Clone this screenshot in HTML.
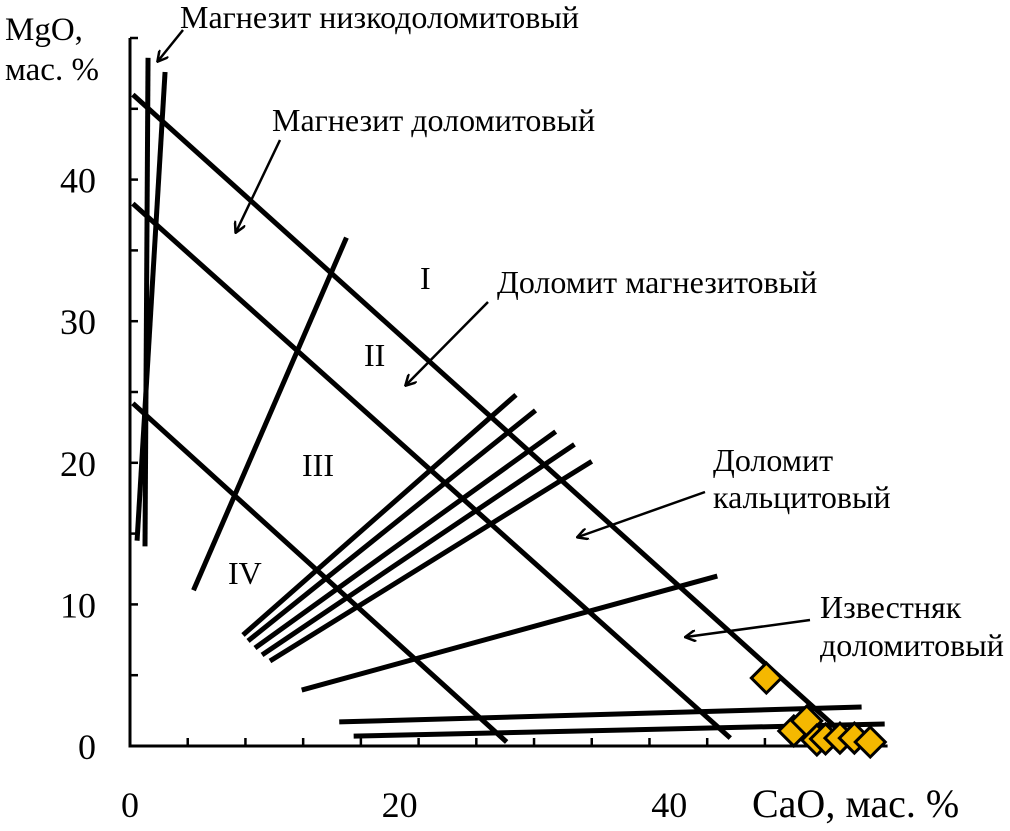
<!DOCTYPE html>
<html><head><meta charset="utf-8"><style>
html,body{margin:0;padding:0;background:#fff;}
svg{display:block;font-family:"Liberation Serif",serif;}
</style></head><body>
<svg id="chart" width="1010" height="831" viewBox="0 0 1010 831" xmlns="http://www.w3.org/2000/svg">
<defs><marker id="ah" markerWidth="12" markerHeight="12" refX="10" refY="6" orient="auto" markerUnits="userSpaceOnUse"><path d="M0,0 L11,6 L0,12" fill="none" stroke="#000" stroke-width="2.5"/></marker></defs>
<g id="axes"></g><g id="lines"></g><g id="points"></g>
<g id="labels" font-size="32">
<text x="180" y="28">Магнезит низкодоломитовый</text>
<text x="272" y="131">Магнезит доломитовый</text>
<text x="497" y="293">Доломит магнезитовый</text>
<text x="713" y="471">Доломит</text>
<text x="713" y="508">кальцитовый</text>
<text x="820" y="618">Известняк</text>
<text x="820" y="656">доломитовый</text>
<text x="420" y="289">I</text>
<text x="364" y="366">II</text>
<text x="302" y="476">III</text>
<text x="228" y="584">IV</text>
<line x1="183" y1="30" x2="158" y2="61" stroke="#000" stroke-width="2.5" marker-end="url(#ah)"/>
<line x1="280" y1="140" x2="236" y2="232" stroke="#000" stroke-width="2.5" marker-end="url(#ah)"/>
<line x1="488" y1="302" x2="406" y2="385" stroke="#000" stroke-width="2.5" marker-end="url(#ah)"/>
<line x1="705" y1="492" x2="578" y2="537" stroke="#000" stroke-width="2.5" marker-end="url(#ah)"/>
<line x1="810" y1="620" x2="686" y2="637" stroke="#000" stroke-width="2.5" marker-end="url(#ah)"/>
</g>
<g font-size="33">
<text x="5" y="40">MgO,</text>
<text x="5" y="80">мас. %</text>
<text x="752" y="817" font-size="40">CaO, мас. %</text>
</g>
</svg>
<script>
const xTicks=[0,4,8,12,16,20,24,28,32,36,40,44,48,52];
const yTicks=[0,5,10,15,20,25,30,35,40,45,50];
const xLabels=[0,20,40];
const yLabels=[0,10,20,30,40];
const ptCaO=[44.1,46.0,46.9,47.6,48.2,49.2,50.2,51.3];
const ptMgO=[4.8,1.06,1.77,0.42,0.5,0.56,0.56,0.28];
const lineX1=[0.2,0.2,0.2,4.4,1.25,2.43,7.83,8.18,8.66,9.15,9.70,11.9,14.5,15.5];
const lineY1=[46.0,38.3,24.2,11.0,48.6,47.6,7.84,7.42,6.92,6.43,6.0,3.95,1.7,0.7];
const lineX2=[49.9,41.6,26.1,15.0,1.04,0.49,26.75,28.1,29.5,30.8,32.0,40.7,50.7,52.3];
const lineY2=[0.42,0.56,0.28,35.9,14.1,14.5,24.8,23.7,22.2,21.3,20.1,12.0,2.75,1.55];
const X=v=>130+v*14.43, Y=v=>746-v*14.16;
const NS='http://www.w3.org/2000/svg';
function mk(t,a,p){const e=document.createElementNS(NS,t);for(const k in a)e.setAttribute(k,a[k]);p.appendChild(e);return e;}
const ax=document.getElementById('axes');
let e=mk('path',{d:`M${X(0)},${Y(50)} V${Y(0)} H${X(52.5)}`,fill:'none',stroke:'#000','stroke-width':3},ax);


xTicks.forEach(v=>{const t=mk('line',{x1:X(v),x2:X(v),y1:Y(0),y2:Y(0)-8,stroke:'#000','stroke-width':2.5},ax);

});
yTicks.forEach(v=>{const t=mk('line',{x1:X(0),x2:X(0)+8,y1:Y(v),y2:Y(v),stroke:'#000','stroke-width':2.5},ax);

});
xLabels.forEach(v=>{const t=mk('text',{x:X(v)-v*0.95,y:817,'text-anchor':'middle','font-size':36},ax);t.textContent=v;

});
yLabels.forEach(v=>{const t=mk('text',{x:96,y:Y(v)+13,'text-anchor':'end','font-size':36},ax);t.textContent=v;

});
const lg=document.getElementById('lines');
lineX1.forEach((v,i)=>{const l=mk('line',{x1:X(v),y1:Y(lineY1[i]),x2:X(lineX2[i]),y2:Y(lineY2[i]),stroke:'#000','stroke-width':5},lg);

});
const pg=document.getElementById('points');
ptCaO.forEach((v,i)=>{const cx=X(v),cy=Y(ptMgO[i]),r=15;
const p=mk('polygon',{points:`${cx},${cy-r} ${cx+r},${cy} ${cx},${cy+r} ${cx-r},${cy}`,fill:'#f5b800',stroke:'#000','stroke-width':3},pg);

});
</script>
</body></html>
